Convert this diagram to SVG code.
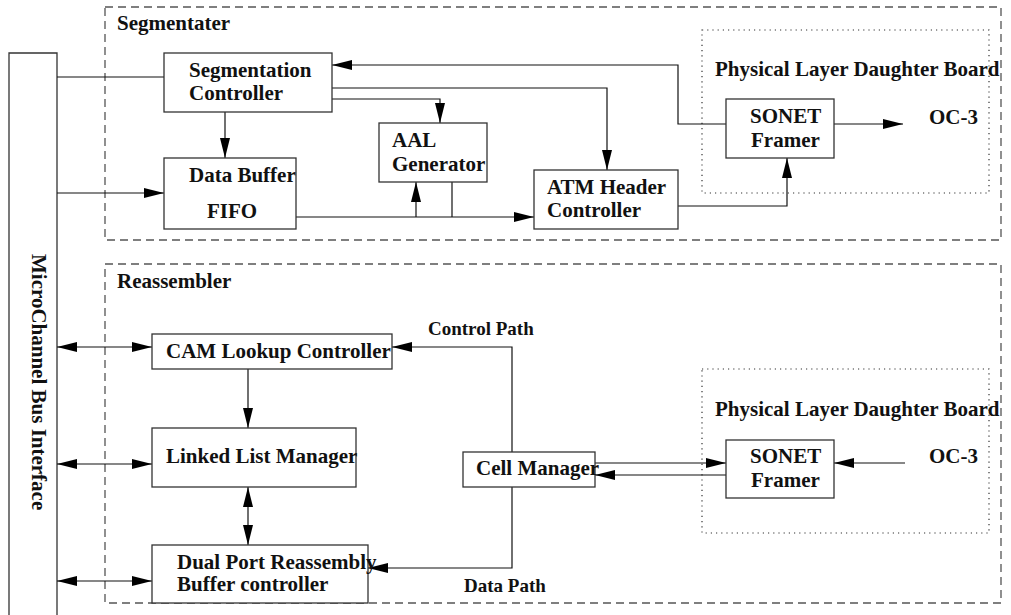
<svg xmlns="http://www.w3.org/2000/svg" width="1011" height="615" viewBox="0 0 1011 615">
<style>
.box{fill:#fff;stroke:#333;stroke-width:1.3}
.grp{fill:none;stroke:#555;stroke-width:1.3;stroke-dasharray:8 5}
.dot{fill:none;stroke:#333;stroke-width:1.2;stroke-dasharray:1.2 4}
.t{font-family:"Liberation Serif","Times New Roman",serif;font-weight:bold;font-size:21px;fill:#111}
.s{font-size:19px}
.c{fill:none;stroke:#111;stroke-width:1.2}
.a{marker-end:url(#ah)}
.b{marker-start:url(#ah);marker-end:url(#ah)}
</style>
<defs>
<marker id="ah" markerUnits="userSpaceOnUse" markerWidth="21" markerHeight="11" refX="20" refY="5" orient="auto-start-reverse">
<path d="M0,0 L20,5 L0,10 z" fill="#000"/>
</marker>
</defs>
<rect width="1011" height="615" fill="#fff"/>

<g id="segmentater">
<rect class="grp" x="105" y="7" width="896" height="233"/>
<text class="t" x="117" y="30">Segmentater</text>
</g>
<g id="reassembler">
<rect class="grp" x="105" y="264" width="896" height="339"/>
<text class="t" x="117" y="288">Reassembler</text>
</g>
<g id="pldb-top">
<rect class="dot" x="702" y="30" width="287" height="163"/>
<text class="t" x="715" y="76">Physical Layer Daughter Board</text>
</g>
<g id="pldb-bottom">
<rect class="dot" x="702" y="369" width="287" height="164"/>
<text class="t" x="715" y="416">Physical Layer Daughter Board</text>
</g>

<g id="bus">
<path class="box" d="M9,620 V53 H57 V620" fill="none"/>
<text class="t" transform="translate(32,254) rotate(90)">MicroChannel Bus Interface</text>
</g>

<g id="connectors">
<path class="c" d="M57,77 H164"/>
<path class="c a" d="M57,193 H164"/>
<path class="c a" d="M225,112 V158"/>
<path class="c a" d="M332,99 H440 V123"/>
<path class="c a" d="M332,88 H607 V170"/>
<path class="c a" d="M726,124 H678 V65 H332"/>
<path class="c a" d="M296,217 H534"/>
<path class="c a" d="M416,217 V182"/>
<path class="c" d="M452,182 V217"/>
<path class="c a" d="M678,206 H787 V158"/>
<path class="c a" d="M834,124 H903"/>
<path class="c b" d="M57,347 H152"/>
<path class="c b" d="M57,464 H152"/>
<path class="c b" d="M57,581 H152"/>
<path class="c a" d="M248,369 V428"/>
<path class="c b" d="M248,487 V545"/>
<path class="c a" d="M512,452 V347 H392"/>
<path class="c a" d="M512,487 V568 H368"/>
<path class="c a" d="M595,463 H726"/>
<path class="c a" d="M726,475 H595"/>
<path class="c a" d="M905,463 H834"/>
</g>

<g id="seg-controller">
<rect class="box" x="164" y="53" width="168" height="59"/>
<text class="t" x="189" y="77">Segmentation</text>
<text class="t" x="189" y="100">Controller</text>
</g>
<g id="data-buffer">
<rect class="box" x="164" y="158" width="132" height="71"/>
<text class="t" x="189" y="182">Data Buffer</text>
<text class="t" x="207" y="218">FIFO</text>
</g>
<g id="aal-generator">
<rect class="box" x="379" y="123" width="108" height="59"/>
<text class="t" x="392" y="147">AAL</text>
<text class="t" x="392" y="171">Generator</text>
</g>
<g id="atm-header">
<rect class="box" x="534" y="170" width="144" height="59"/>
<text class="t" x="547" y="194">ATM Header</text>
<text class="t" x="547" y="217">Controller</text>
</g>
<g id="sonet-top">
<rect class="box" x="726" y="99" width="108" height="59"/>
<text class="t" x="750" y="123">SONET</text>
<text class="t" x="751" y="147">Framer</text>
</g>
<g id="oc3-top"><text class="t" x="929" y="124">OC-3</text></g>

<g id="cam">
<rect class="box" x="152" y="334" width="240" height="35"/>
<text class="t" x="166" y="358">CAM Lookup Controller</text>
</g>
<g id="llm">
<rect class="box" x="152" y="428" width="204" height="59"/>
<text class="t" x="166" y="463">Linked List Manager</text>
</g>
<g id="dual-port">
<rect class="box" x="152" y="545" width="216" height="58"/>
<text class="t" x="177" y="569">Dual Port Reassembly</text>
<text class="t" x="177" y="591">Buffer controller</text>
</g>
<g id="cell-manager">
<rect class="box" x="463" y="452" width="132" height="35"/>
<text class="t" x="476" y="475">Cell Manager</text>
</g>
<g id="sonet-bottom">
<rect class="box" x="726" y="440" width="108" height="58"/>
<text class="t" x="750" y="463">SONET</text>
<text class="t" x="751" y="487">Framer</text>
</g>
<g id="oc3-bottom"><text class="t" x="929" y="463">OC-3</text></g>
<g id="labels">
<text class="t s" x="428" y="335">Control Path</text>
<text class="t s" x="464" y="592">Data Path</text>
</g>
</svg>
